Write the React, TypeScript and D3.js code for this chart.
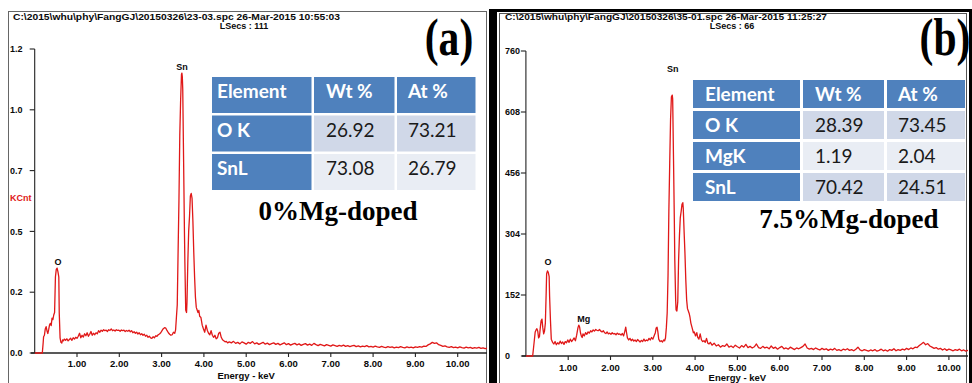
import React from "react";
import * as d3 from "d3";

const W = 972;
const H = 383;

// EDS spectrum of the undoped film: [energy keV, counts]
const spectrumA: [number, number][] = [
  [0, 0], [0.18, 0], [0.2, 40], [0.21, 64], [0.23, 70], [0.25, 95], [0.27, 104], [0.29, 88], [0.31, 77],
  [0.33, 92], [0.35, 110], [0.37, 117], [0.39, 108], [0.41, 138], [0.43, 132], [0.45, 150], [0.47, 160],
  [0.49, 300], [0.51, 330], [0.53, 335], [0.55, 320], [0.57, 300], [0.58, 160], [0.6, 60], [0.62, 42],
  [0.64, 39], [0.66, 52], [0.68, 48], [0.7, 55], [0.73, 50], [0.76, 56], [0.79, 48], [0.82, 53], [0.85, 58],
  [0.88, 50], [0.91, 60], [0.94, 55], [0.97, 62], [1.0, 58], [1.03, 66], [1.06, 78], [1.09, 60], [1.12, 70],
  [1.15, 63], [1.18, 76], [1.21, 68], [1.24, 80], [1.27, 66], [1.3, 74], [1.33, 85], [1.36, 70], [1.39, 78],
  [1.42, 72], [1.45, 80], [1.48, 76], [1.51, 88], [1.54, 82], [1.57, 90], [1.6, 86], [1.63, 92], [1.66, 88],
  [1.69, 90], [1.72, 85], [1.75, 92], [1.78, 89], [1.81, 95], [1.84, 88], [1.87, 91], [1.9, 87], [1.93, 92],
  [1.96, 89], [1.99, 90], [2.02, 86], [2.05, 91], [2.08, 88], [2.11, 90], [2.14, 85], [2.17, 89], [2.2, 86],
  [2.23, 90], [2.26, 84], [2.29, 88], [2.32, 80], [2.35, 84], [2.38, 78], [2.41, 82], [2.44, 75], [2.47, 80],
  [2.5, 72], [2.53, 76], [2.56, 70], [2.59, 74], [2.62, 66], [2.65, 70], [2.68, 62], [2.71, 66], [2.74, 60],
  [2.77, 58], [2.8, 64], [2.83, 60], [2.86, 68], [2.89, 66], [2.92, 72], [2.95, 75], [2.98, 80], [3.01, 88],
  [3.04, 96], [3.07, 100], [3.1, 98], [3.13, 88], [3.16, 80], [3.19, 74], [3.22, 70], [3.25, 72], [3.28, 82],
  [3.31, 78], [3.33, 90], [3.35, 140], [3.37, 190], [3.39, 400], [3.41, 600], [3.43, 860], [3.45, 1000],
  [3.47, 1100], [3.48, 1105], [3.49, 1090], [3.5, 1040], [3.51, 900], [3.52, 760], [3.54, 480], [3.55, 360],
  [3.57, 170], [3.59, 160], [3.6, 200], [3.62, 360], [3.64, 480], [3.66, 540], [3.68, 620], [3.7, 630],
  [3.72, 610], [3.74, 520], [3.76, 400], [3.78, 300], [3.8, 220], [3.82, 180], [3.84, 170], [3.86, 160],
  [3.88, 168], [3.9, 145], [3.93, 140], [3.96, 110], [3.99, 95], [4.02, 82], [4.05, 110], [4.08, 90],
  [4.11, 78], [4.14, 72], [4.17, 88], [4.2, 70], [4.23, 62], [4.26, 70], [4.29, 56], [4.32, 60], [4.35, 78],
  [4.38, 82], [4.41, 62], [4.44, 52], [4.47, 48], [4.5, 44], [4.53, 46], [4.56, 40], [4.6, 44], [4.65, 40],
  [4.7, 46], [4.75, 38], [4.8, 42], [4.85, 36], [4.9, 44], [4.95, 40], [5.0, 35], [5.05, 42], [5.1, 38],
  [5.15, 45], [5.2, 36], [5.25, 40], [5.3, 34], [5.35, 38], [5.4, 42], [5.45, 35], [5.5, 39], [5.55, 33],
  [5.6, 37], [5.65, 40], [5.7, 34], [5.75, 38], [5.8, 32], [5.85, 36], [5.9, 40], [5.95, 33], [6.0, 37],
  [6.05, 31], [6.1, 35], [6.15, 38], [6.2, 32], [6.25, 36], [6.3, 30], [6.35, 34], [6.4, 37], [6.45, 31],
  [6.5, 35], [6.55, 30], [6.6, 38], [6.65, 33], [6.7, 29], [6.75, 34], [6.8, 31], [6.85, 28], [6.9, 33],
  [6.95, 30], [7.0, 27], [7.05, 32], [7.1, 29], [7.15, 26], [7.2, 30], [7.25, 27], [7.3, 31], [7.35, 26],
  [7.4, 29], [7.45, 25], [7.5, 28], [7.55, 30], [7.6, 25], [7.65, 28], [7.7, 24], [7.75, 27], [7.8, 25],
  [7.85, 29], [7.9, 24], [7.95, 26], [8.0, 23], [8.05, 27], [8.1, 24], [8.15, 22], [8.2, 26], [8.25, 23],
  [8.3, 21], [8.35, 25], [8.4, 22], [8.45, 24], [8.5, 20], [8.55, 23], [8.6, 21], [8.65, 25], [8.7, 22],
  [8.75, 20], [8.8, 24], [8.85, 21], [8.9, 23], [8.95, 20], [9.0, 24], [9.05, 22], [9.1, 25], [9.15, 23],
  [9.2, 27], [9.25, 26], [9.3, 32], [9.35, 36], [9.4, 42], [9.45, 38], [9.5, 40], [9.55, 33], [9.6, 30],
  [9.65, 26], [9.7, 28], [9.75, 24], [9.8, 22], [9.85, 25], [9.9, 21], [9.95, 23], [10.0, 20], [10.05, 24],
  [10.1, 21], [10.15, 19], [10.2, 23], [10.25, 20], [10.3, 22], [10.35, 18], [10.4, 21], [10.45, 19],
  [10.5, 22], [10.55, 18], [10.6, 20], [10.65, 17], [10.7, 19], [10.75, 18],
];

// EDS spectrum of the 7.5% Mg-doped film: [energy keV, counts]
const spectrumB: [number, number][] = [
  [0, 0], [0.16, 0], [0.18, 20], [0.2, 40], [0.22, 60], [0.24, 65], [0.26, 68], [0.28, 62], [0.3, 45],
  [0.32, 48], [0.34, 70], [0.36, 88], [0.38, 92], [0.4, 70], [0.42, 55], [0.44, 62], [0.46, 82], [0.48, 160],
  [0.49, 205], [0.51, 212], [0.53, 208], [0.55, 198], [0.56, 150], [0.58, 90], [0.6, 42], [0.63, 34],
  [0.66, 30], [0.69, 36], [0.72, 28], [0.75, 33], [0.78, 30], [0.81, 37], [0.84, 31], [0.87, 35], [0.9, 29],
  [0.93, 36], [0.96, 33], [0.99, 40], [1.02, 34], [1.05, 42], [1.08, 36], [1.11, 40], [1.14, 45], [1.17, 38],
  [1.2, 52], [1.23, 70], [1.25, 77], [1.27, 72], [1.29, 58], [1.31, 50], [1.33, 46], [1.35, 55], [1.38, 50],
  [1.41, 58], [1.44, 54], [1.47, 60], [1.5, 57], [1.53, 63], [1.56, 60], [1.59, 65], [1.62, 62], [1.65, 66],
  [1.68, 64], [1.71, 63], [1.74, 66], [1.77, 62], [1.8, 60], [1.83, 63], [1.86, 58], [1.89, 56], [1.92, 60],
  [1.95, 55], [1.98, 57], [2.01, 54], [2.04, 58], [2.07, 55], [2.1, 56], [2.13, 53], [2.16, 57], [2.19, 54],
  [2.22, 55], [2.25, 52], [2.28, 56], [2.31, 50], [2.34, 62], [2.36, 72], [2.38, 58], [2.4, 45], [2.43, 40],
  [2.46, 44], [2.49, 38], [2.52, 42], [2.55, 37], [2.58, 40], [2.61, 36], [2.64, 41], [2.67, 38], [2.7, 35],
  [2.73, 39], [2.76, 36], [2.79, 42], [2.82, 37], [2.85, 40], [2.88, 38], [2.91, 44], [2.94, 40], [2.97, 46],
  [3.0, 42], [3.03, 50], [3.06, 58], [3.08, 70], [3.1, 72], [3.12, 60], [3.14, 42], [3.17, 36], [3.2, 38],
  [3.23, 35], [3.26, 40], [3.28, 38], [3.3, 45], [3.32, 70], [3.34, 107], [3.36, 200], [3.38, 364],
  [3.4, 480], [3.42, 590], [3.44, 646], [3.46, 650], [3.47, 640], [3.49, 488], [3.51, 330], [3.52, 239],
  [3.54, 140], [3.55, 115], [3.57, 112], [3.59, 135], [3.61, 240], [3.63, 300], [3.65, 345], [3.67, 360],
  [3.69, 378], [3.71, 382], [3.72, 368], [3.74, 310], [3.76, 256], [3.78, 190], [3.8, 140], [3.82, 118],
  [3.84, 112], [3.86, 106], [3.88, 96], [3.9, 82], [3.93, 70], [3.96, 58], [3.98, 60], [4.01, 50], [4.04, 58],
  [4.06, 47], [4.09, 42], [4.12, 55], [4.15, 40], [4.18, 36], [4.21, 38], [4.24, 34], [4.27, 44], [4.3, 32],
  [4.33, 30], [4.36, 34], [4.4, 27], [4.45, 32], [4.5, 25], [4.55, 28], [4.6, 22], [4.65, 26], [4.7, 24],
  [4.75, 30], [4.8, 22], [4.85, 25], [4.9, 21], [4.95, 27], [5.0, 23], [5.05, 20], [5.1, 26], [5.15, 22],
  [5.2, 29], [5.25, 21], [5.3, 24], [5.35, 20], [5.4, 23], [5.45, 30], [5.5, 21], [5.55, 19], [5.6, 24],
  [5.65, 20], [5.7, 22], [5.75, 18], [5.8, 25], [5.85, 19], [5.9, 22], [5.95, 17], [6.0, 21], [6.05, 24],
  [6.1, 18], [6.15, 20], [6.2, 17], [6.25, 22], [6.3, 19], [6.35, 16], [6.4, 20], [6.45, 18], [6.5, 21],
  [6.55, 24], [6.6, 30], [6.65, 20], [6.7, 17], [6.75, 19], [6.8, 16], [6.85, 20], [6.9, 17], [6.95, 15],
  [7.0, 19], [7.05, 16], [7.1, 18], [7.15, 14], [7.2, 17], [7.25, 15], [7.3, 19], [7.35, 14], [7.4, 16],
  [7.45, 13], [7.5, 17], [7.55, 15], [7.6, 18], [7.65, 14], [7.7, 16], [7.75, 13], [7.8, 17], [7.85, 22],
  [7.9, 15], [7.95, 13], [8.0, 16], [8.05, 14], [8.1, 12], [8.15, 15], [8.2, 13], [8.25, 16], [8.3, 12],
  [8.35, 14], [8.4, 17], [8.45, 13], [8.5, 15], [8.55, 12], [8.6, 16], [8.65, 14], [8.7, 18], [8.75, 13],
  [8.8, 16], [8.85, 14], [8.9, 17], [8.95, 15], [9.0, 19], [9.05, 16], [9.1, 20], [9.15, 18], [9.2, 22],
  [9.25, 21], [9.3, 26], [9.35, 30], [9.4, 34], [9.45, 28], [9.5, 31], [9.55, 25], [9.6, 22], [9.65, 19],
  [9.7, 21], [9.75, 17], [9.8, 19], [9.85, 15], [9.9, 18], [9.95, 14], [10.0, 17], [10.05, 15], [10.1, 13],
  [10.15, 16], [10.2, 14], [10.25, 17], [10.3, 13], [10.35, 15], [10.4, 12], [10.45, 14], [10.5, 16],
  [10.55, 12], [10.6, 14], [10.65, 11], [10.7, 13], [10.75, 12],
];

// Full-scale counts of each spectrum window
const yMaxA = 1200;
const yMaxB = 760;

// Energy tick values (keV)
const energyTicks = [1, 2, 3, 4, 5, 6, 7, 8, 9, 10];

// Peak identification labels: [element, energy keV, label level in counts]
const peaksA: [string, number, number][] = [
  ["O", 0.55, 348],
  ["Sn", 3.48, 1118],
];
const peaksB: [string, number, number][] = [
  ["O", 0.52, 226],
  ["Mg", 1.37, 84],
  ["Sn", 3.47, 708],
];

// Quantification tables
const tableHeader = ["Element", "Wt %", "At %"];
const elementsA = ["O K", "SnL"];
const wtA = [26.92, 73.08];
const atA = [73.21, 26.79];
const elementsB = ["O K", "MgK", "SnL"];
const wtB = [28.39, 1.19, 70.42];
const atB = [73.45, 2.04, 24.51];

const headerFileA = "C:\\2015\\whu\\phy\\FangGJ\\20150326\\23-03.spc  26-Mar-2015 10:55:03";
const headerFileB = "C:\\2015\\whu\\phy\\FangGJ\\20150326\\35-01.spc  26-Mar-2015 11:25:27";
const liveSecsA = "LSecs :  111";
const liveSecsB = "LSecs :  66";

const SANS = "'Liberation Sans', Arial, sans-serif";
const SERIF = "'Liberation Serif', 'Times New Roman', serif";
const TABLE_FONT = "Lato, 'Open Sans', sans-serif";
const RED = "#e01818";
const INK = "#0a0a0a";
const BLUE = "#4f81bd";
const ROW_DARK = "#d0d8e8";
const ROW_LIGHT = "#e9edf4";
const PX_PER_KEV = 42.3;

type PanelLayout = {
  x0: number; // pixel of 0 keV
  yBase: number;
  yTop: number;
  axisStart: number;
  axisEnd: number;
  tickLabelX: number;
  tickLabelDy: number;
  titleDy: number;
};

function SpectrumPanel({
  spectrum,
  yMax,
  fmt,
  peaks,
  L,
  id,
}: {
  spectrum: [number, number][];
  yMax: number;
  fmt: (v: number) => string;
  peaks: [string, number, number][];
  L: PanelLayout;
  id: string;
}) {
  const x = d3.scaleLinear().domain([0, 1]).range([L.x0, L.x0 + PX_PER_KEV]);
  const y = d3.scaleLinear().domain([0, yMax]).range([L.yBase, L.yTop]);
  const line = d3
    .line<[number, number]>()
    .x((d) => x(d[0]))
    .y((d) => y(d[1]));
  const yTicks = d3.range(6).map((i) => (yMax * i) / 5);
  return (
    <g>
      <defs>
        <clipPath id={id}>
          <rect x={L.x0} y={0} width={L.axisEnd - L.x0} height={L.yBase + 1} />
        </clipPath>
      </defs>
      {/* y axis */}
      <line x1={L.x0} x2={L.x0} y1={L.yTop} y2={L.yBase} stroke="#222" strokeWidth={1.1} />
      {yTicks.map((t) => (
        <g key={t}>
          <line x1={L.x0 - 5} x2={L.x0} y1={y(t)} y2={y(t)} stroke="#222" strokeWidth={1.1} />
          <text
            x={L.tickLabelX}
            y={y(t)}
            dy="0.35em"
            fontFamily={SANS}
            fontWeight="bold"
            fontSize={9}
            fill={INK}
          >
            {fmt(t)}
          </text>
        </g>
      ))}
      {/* x axis */}
      <line x1={L.axisStart} x2={L.axisEnd} y1={L.yBase} y2={L.yBase} stroke="#222" strokeWidth={1.3} />
      {energyTicks.map((t) => (
        <g key={t}>
          <line x1={x(t)} x2={x(t)} y1={L.yBase} y2={L.yBase + 4} stroke="#222" strokeWidth={1.1} />
          <text
            x={x(t)}
            y={L.yBase + L.tickLabelDy}
            textAnchor="middle"
            fontFamily={SANS}
            fontWeight="bold"
            fontSize={9.5}
            fill={INK}
          >
            {t.toFixed(2)}
          </text>
        </g>
      ))}
      <text
        x={x(5)}
        y={L.yBase + L.titleDy}
        textAnchor="middle"
        fontFamily={SANS}
        fontWeight="bold"
        fontSize={9.5}
        fill={INK}
      >
        Energy - keV
      </text>
      {/* spectrum trace */}
      <path
        d={line(spectrum) ?? ""}
        fill="none"
        stroke={RED}
        strokeWidth={1.3}
        strokeLinejoin="round"
        clipPath={`url(#${id})`}
      />
      {peaks.map(([name, e, lvl]) => (
        <text
          key={name}
          x={x(e)}
          y={y(lvl)}
          textAnchor="middle"
          fontFamily={SANS}
          fontWeight="bold"
          fontSize={9}
          fill={INK}
        >
          {name}
        </text>
      ))}
    </g>
  );
}

function QuantTable({
  left,
  top,
  colEdges,
  rowH,
  gap,
  elements,
  wt,
  at,
  textDx,
  baseDy,
}: {
  left: number;
  top: number;
  colEdges: number[];
  rowH: number;
  gap: number;
  elements: string[];
  wt: number[];
  at: number[];
  textDx: number[];
  baseDy: number;
}) {
  const rows = [tableHeader, ...elements.map((el, i) => [el, wt[i].toFixed(2), at[i].toFixed(2)])];
  return (
    <g>
      {rows.map((row, r) =>
        row.map((cell, c) => {
          const x0 = left + colEdges[c];
          const x1 = left + colEdges[c + 1] - gap;
          const y0 = top + r * (rowH + gap);
          const blue = r === 0 || c === 0;
          const fill = blue ? BLUE : r % 2 === 1 ? ROW_DARK : ROW_LIGHT;
          return (
            <g key={`${r}-${c}`}>
              <rect x={x0} y={y0} width={x1 - x0} height={rowH} fill={fill} />
              <text
                x={x0 + textDx[c]}
                y={y0 + baseDy}
                fontFamily={TABLE_FONT}
                fontWeight={blue ? "bold" : "normal"}
                fontSize={19}
                fill={blue ? "#fff" : "#1a1a1a"}
              >
                {cell}
              </text>
            </g>
          );
        })
      )}
    </g>
  );
}

export default function App() {
  const layoutA: PanelLayout = {
    x0: 34.7,
    yBase: 353,
    yTop: 49,
    axisStart: 31,
    axisEnd: 487,
    tickLabelX: 10,
    tickLabelDy: 14,
    titleDy: 26,
  };
  const layoutB: PanelLayout = {
    x0: 525.9,
    yBase: 356,
    yTop: 51,
    axisStart: 522,
    axisEnd: 968,
    tickLabelX: 505,
    tickLabelDy: 15,
    titleDy: 25,
  };
  return (
    <svg
      width={W}
      height={H}
      viewBox={`0 0 ${W} ${H}`}
      style={{ position: "absolute", left: 0, top: 0, background: "#fff" }}
    >
      <rect x={0} y={0} width={W} height={H} fill="#fff" />

      {/* frame of panel (a) */}
      <rect x={8.5} y={11.5} width={478} height={380} fill="#fff" stroke="#666" strokeWidth={1} />

      {/* frame of panel (b) */}
      <rect x={489} y={9} width={W - 489} height={H} fill="#000" />
      <rect x={497} y={12} width={472} height={H} fill="#fff" />
      <rect x={499.5} y={13.5} width={467} height={H} fill="none" stroke="#555" strokeWidth={1} />

      {/* panel (a) */}
      <text x={13} y={20} fontFamily={SANS} fontWeight="bold" fontSize={9} textLength={327} lengthAdjust="spacingAndGlyphs" fill={INK}>
        {headerFileA}
      </text>
      <text x={244} y={29} textAnchor="middle" fontFamily={SANS} fontWeight="bold" fontSize={9} fill={INK}>
        {liveSecsA}
      </text>
      <text x={10} y={201} fontFamily={SANS} fontWeight="bold" fontSize={9} fill={RED}>
        KCnt
      </text>
      <SpectrumPanel
        spectrum={spectrumA}
        yMax={yMaxA}
        fmt={(v) => (v / 1000).toFixed(1)}
        peaks={peaksA}
        L={layoutA}
        id="clipA"
      />
      <QuantTable
        left={212}
        top={77}
        colEdges={[0, 102, 185, 266]}
        rowH={36}
        gap={2.5}
        elements={elementsA}
        wt={wtA}
        at={atA}
        textDx={[5, 12, 11]}
        baseDy={21}
      />
      <text x={338} y={220} textAnchor="middle" fontFamily={SERIF} fontWeight="bold" fontSize={27} fill="#000">
        0%Mg-doped
      </text>
      <text x={449} y={55} textAnchor="middle" fontFamily={SERIF} fontWeight="bold" fontSize={52} fill="#000" transform="translate(449 0) scale(0.8 1) translate(-449 0)">
        (a)
      </text>

      {/* panel (b) */}
      <text x={505} y={20} fontFamily={SANS} fontWeight="bold" fontSize={9} textLength={322} lengthAdjust="spacingAndGlyphs" fill={INK}>
        {headerFileB}
      </text>
      <text x={732} y={29} textAnchor="middle" fontFamily={SANS} fontWeight="bold" fontSize={9} fill={INK}>
        {liveSecsB}
      </text>
      <SpectrumPanel
        spectrum={spectrumB}
        yMax={yMaxB}
        fmt={(v) => String(Math.round(v))}
        peaks={peaksB}
        L={layoutB}
        id="clipB"
      />
      <QuantTable
        left={693}
        top={80}
        colEdges={[0, 110, 194, 275]}
        rowH={28}
        gap={3}
        elements={elementsB}
        wt={wtB}
        at={atB}
        textDx={[12, 12, 11]}
        baseDy={21}
      />
      <text x={849} y={228} textAnchor="middle" fontFamily={SERIF} fontWeight="bold" fontSize={27} fill="#000">
        7.5%Mg-doped
      </text>
      <text x={945} y={55} textAnchor="middle" fontFamily={SERIF} fontWeight="bold" fontSize={52} fill="#000" transform="translate(945 0) scale(0.8 1) translate(-945 0)">
        (b)
      </text>
    </svg>
  );
}
